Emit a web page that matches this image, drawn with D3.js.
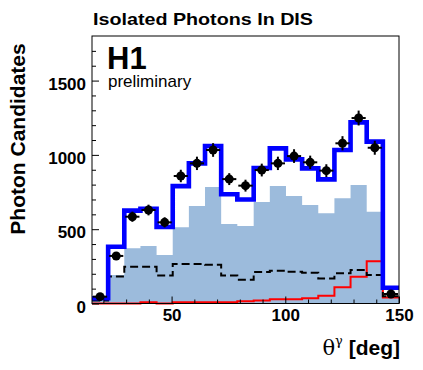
<!DOCTYPE html>
<html>
<head>
<meta charset="utf-8">
<script src="https://cdn.jsdelivr.net/npm/d3@7"></script>
<style>
body { margin: 0; background: #fff; }
svg { display: block; }
</style>
</head>
<body>
<div id="chart"></div>
<script>
// theta bins (19 equal bins from 15 to 150 deg)
const binEdges = [15, 22.1, 29.2, 36.3, 43.4, 50.5, 57.6, 64.7, 71.8, 78.9, 86.1, 93.2, 100.3, 107.4, 114.5, 121.6, 128.7, 135.8, 142.9, 150];

// data points and errors
const dataCounts = [46, 320, 584, 629, 546, 858, 943, 1033, 837, 793, 898, 943, 992, 950, 894, 1078, 1248, 1048, 64];
const dataErrors = [12, 26, 34, 36, 34, 42, 45, 46, 40, 40, 43, 45, 46, 45, 43, 48, 50, 47, 14];

// MC histograms
const mcTotal  = [35, 382, 625, 638, 515, 790, 943, 1060, 735, 700, 912, 1044, 970, 909, 835, 1033, 1219, 1089, 106];
const mcFilled = [20, 192, 371, 387, 326, 513, 656, 784, 535, 521, 683, 791, 723, 663, 607, 708, 797, 618, 45];
const mcDashed = [20, 182, 248, 248, 188, 266, 266, 261, 188, 160, 212, 221, 213, 207, 169, 203, 225, 192, 48];
const mcRed    = [0, 0, 0, 8, 0, 8, 8, 8, 8, 15, 21, 28, 28, 35, 52, 109, 180, 284, 40];

const xMajorTicks = [50, 100, 150];
const xMinorTicks = [20, 30, 40, 60, 70, 80, 90, 110, 120, 130, 140];
const yMajorTicks = [0, 500, 1000, 1500];
const yMinorTicks = d3.range(100, 1800, 100).filter(v => v % 500 !== 0);

const width = 423, height = 370;
const margin = { top: 36, right: 24, bottom: 66.5, left: 92 };
const font = "'Liberation Sans', Arial, Helvetica, sans-serif";

const svg = d3.select("#chart").append("svg")
    .attr("width", width).attr("height", height);

const x = d3.scaleLinear()
    .domain([15, 150])
    .range([margin.left, width - margin.right]);

const y = d3.scaleLinear()
    .domain([0, 1800])
    .range([height - margin.bottom, margin.top]);

// step helpers
function stepPoints(values) {
    const pts = values.map((v, i) => [binEdges[i], v]);
    pts.push([binEdges[binEdges.length - 1], values[values.length - 1]]);
    return pts;
}
const stepLine = d3.line()
    .x(d => x(d[0])).y(d => y(d[1]))
    .curve(d3.curveStepAfter);
const stepArea = d3.area()
    .x(d => x(d[0])).y0(y(0)).y1(d => y(d[1]))
    .curve(d3.curveStepAfter);

// filled histogram
svg.append("path")
    .attr("d", stepArea(stepPoints(mcFilled)))
    .attr("fill", "#9cbbdc");

// red histogram
svg.append("path")
    .attr("d", stepLine(stepPoints(mcRed)))
    .attr("fill", "none")
    .attr("stroke", "#ff0000")
    .attr("stroke-width", 2);

// dashed histogram
svg.append("path")
    .attr("d", stepLine(stepPoints(mcDashed)))
    .attr("fill", "none")
    .attr("stroke", "#000")
    .attr("stroke-width", 2)
    .attr("stroke-dasharray", "8,4");

// total MC
svg.append("path")
    .attr("d", stepLine(stepPoints(mcTotal)))
    .attr("fill", "none")
    .attr("stroke", "#0000ff")
    .attr("stroke-width", 4.6);

// frame
svg.append("rect")
    .attr("x", x(15)).attr("y", y(1800))
    .attr("width", x(150) - x(15)).attr("height", y(0) - y(1800))
    .attr("fill", "none").attr("stroke", "#000").attr("stroke-width", 1);

// axes
const xAxisG = svg.append("g").attr("transform", `translate(0,${y(0)})`);
xAxisG.append("g").call(d3.axisBottom(x).tickValues(xMinorTicks).tickSize(-4).tickFormat(""));
xAxisG.append("g").call(d3.axisBottom(x).tickValues(xMajorTicks).tickSize(-7).tickFormat(d3.format("d")));
xAxisG.selectAll(".domain").remove();
xAxisG.selectAll("text")
    .attr("y", 17.2).attr("dy", 0)
    .attr("font-family", font).attr("font-weight", "bold").attr("font-size", 17).attr("fill", "#000");

const yAxisG = svg.append("g").attr("transform", `translate(${x(15)},0)`);
yAxisG.append("g").call(d3.axisLeft(y).tickValues(yMinorTicks).tickSize(-4).tickFormat(""));
yAxisG.append("g").call(d3.axisLeft(y).tickValues(yMajorTicks).tickSize(-7).tickPadding(6).tickFormat(d3.format("d")));
yAxisG.selectAll(".domain").remove();
yAxisG.selectAll("text")
    .attr("dy", "0.5em")
    .attr("font-family", font).attr("font-weight", "bold").attr("font-size", 17).attr("fill", "#000");

// data points with error bars
const pts = svg.append("g");
dataCounts.forEach((v, i) => {
    const lo = binEdges[i], hi = binEdges[i + 1];
    const cx = x((lo + hi) / 2);
    pts.append("line")
        .attr("x1", x(lo) + 1).attr("x2", x(hi) - 1)
        .attr("y1", y(v)).attr("y2", y(v))
        .attr("stroke", "#000").attr("stroke-width", 2);
    pts.append("line")
        .attr("x1", cx).attr("x2", cx)
        .attr("y1", y(v - dataErrors[i])).attr("y2", y(v + dataErrors[i]))
        .attr("stroke", "#000").attr("stroke-width", 2);
    pts.append("circle")
        .attr("cx", cx).attr("cy", y(v)).attr("r", 4.5)
        .attr("fill", "#000");
});

// texts
svg.append("text")
    .attr("x", 93).attr("y", 25)
    .attr("font-family", font).attr("font-weight", "bold").attr("font-size", 17)
    .attr("textLength", 220).attr("lengthAdjust", "spacingAndGlyphs")
    .text("Isolated Photons In DIS");

svg.append("text")
    .attr("x", 107).attr("y", 69)
    .attr("font-family", font).attr("font-weight", "bold").attr("font-size", 31)
    .text("H1");

svg.append("text")
    .attr("x", 108).attr("y", 87)
    .attr("font-family", font).attr("font-size", 17)
    .text("preliminary");

svg.append("text")
    .attr("transform", "translate(25,139) rotate(-90)")
    .attr("text-anchor", "middle")
    .attr("font-family", font).attr("font-weight", "bold").attr("font-size", 21)
    .text("Photon Candidates");

const xl = svg.append("text")
    .attr("x", 400).attr("y", 355)
    .attr("text-anchor", "end")
    .attr("font-family", font).attr("font-weight", "bold").attr("font-size", 21);
xl.append("tspan").attr("font-family", "'DejaVu Serif', serif").attr("font-weight", "normal").text("θ");
xl.append("tspan").attr("font-family", "'DejaVu Serif', serif").attr("font-weight", "normal")
    .attr("font-size", 13).attr("dy", -10).text("γ");
xl.append("tspan").attr("dy", 10).text(" [deg]");
</script>
</body>
</html>
